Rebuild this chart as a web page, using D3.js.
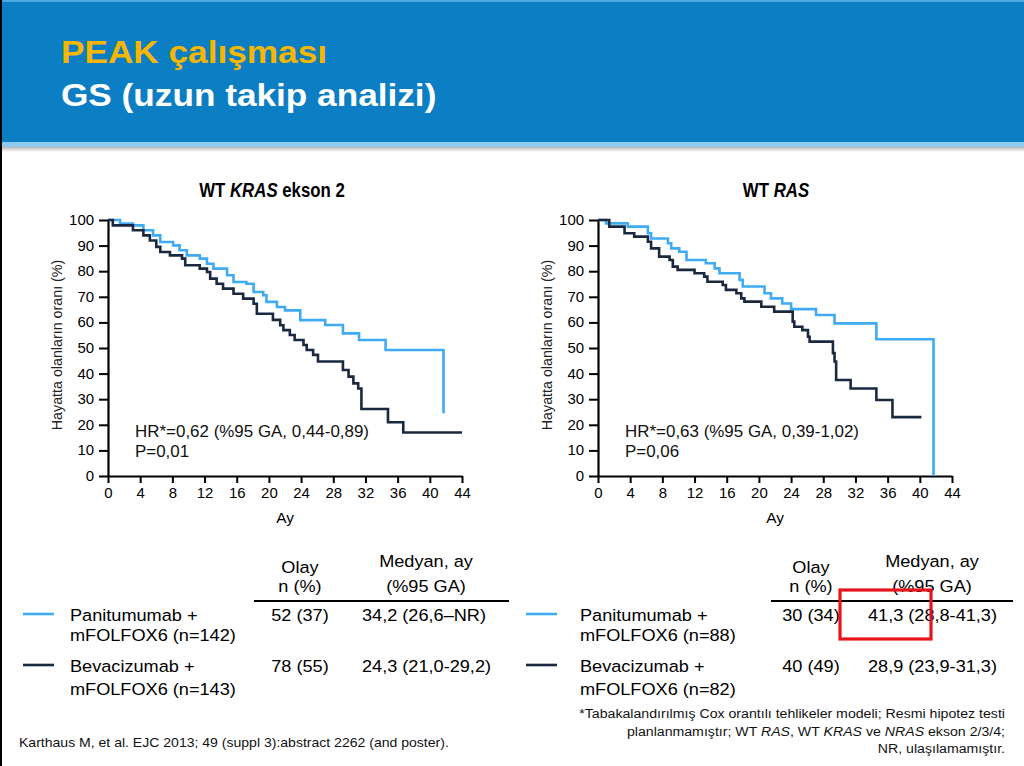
<!DOCTYPE html>
<html><head><meta charset="utf-8">
<script src="https://cdn.jsdelivr.net/npm/d3@7"></script>
<style>
body{margin:0;background:#fff}
svg{display:block}
text{font-family:"Liberation Sans",Arial,Helvetica,sans-serif}
</style>
</head><body>
<svg id="c" width="1024" height="766"></svg>
<script>
// ---------- data ----------
const titleLine1 = "PEAK çalışması";
const titleLine2 = "GS (uzun takip analizi)";
const panelTitles = [[["WT ", false], ["KRAS", true], [" ekson 2", false]], [["WT ", false], ["RAS", true]]];
const xTicks = [0, 4, 8, 12, 16, 20, 24, 28, 32, 36, 40, 44];
const yTicks = [0, 10, 20, 30, 40, 50, 60, 70, 80, 90, 100];
const yLabel = "Hayatta olanların oranı (%)";
const xLabel = "Ay";
const hrTexts = ["HR*=0,62 (%95 GA, 0,44-0,89)", "HR*=0,63 (%95 GA, 0,39-1,02)"];
const pTexts = ["P=0,01", "P=0,06"];

// WT KRAS exon 2 – Panitumumab (months, % alive)
const leftPaniT = [0, 1.5, 3.1, 4.4, 5.6, 6.5, 8.1, 8.9, 9.8, 11.4, 12.3, 13.1, 14.8, 15.6, 17.2, 18.1, 19.3, 19.7, 21.0, 22.0, 23.9, 27.0, 29.2, 31.2, 34.5, 41.7];
const leftPaniS = [100, 98.6, 97.9, 96, 94, 91.4, 90.1, 88.2, 86.2, 84.9, 82.9, 81, 78.4, 75.8, 75.1, 71.9, 70.6, 68, 66, 64.7, 60.9, 59, 55.7, 53.1, 49.2, 24.5];
// WT KRAS exon 2 – Bevacizumab
const leftBevaT = [0, 0.6, 3.1, 4.4, 5.2, 6.0, 6.5, 7.7, 9.2, 9.6, 11.4, 12.3, 12.7, 13.5, 14.3, 15.6, 16.8, 18.1, 18.5, 20.5, 21.4, 21.8, 22.6, 23.2, 24.3, 24.7, 25.5, 26.1, 29.2, 29.9, 30.5, 31.1, 31.5, 34.8, 36.7, 44];
const leftBevaS = [100, 97.9, 96, 94, 92, 89.5, 87.5, 86.2, 84.9, 82.3, 81, 79.7, 77.1, 75.1, 73.2, 71.2, 69.3, 67.3, 63.4, 61, 58.9, 57, 55.1, 53.1, 51.2, 49.2, 47.3, 44.7, 41.4, 38.8, 36.2, 34.2, 26.2, 21, 17, 17];
// WT RAS – Panitumumab
const rightPaniT = [0, 1.0, 3.7, 6.2, 6.6, 8.7, 9.1, 10.1, 11.0, 13.4, 14.5, 15.1, 17.6, 18.0, 20.7, 21.5, 22.9, 24.0, 27.1, 29.4, 34.6, 41.7];
const rightPaniS = [100, 98.7, 97.4, 94.8, 92.8, 90.9, 88.9, 87.6, 84.4, 83.1, 81.1, 79.2, 76.6, 74, 71.4, 69.4, 67.4, 65.2, 62.9, 59.6, 53.4, 0];
// WT RAS – Bevacizumab
const rightBevaT = [0, 1.4, 3.3, 4.5, 6.2, 6.6, 7.6, 8.9, 9.3, 9.9, 12.0, 13.2, 13.6, 15.5, 15.9, 17.2, 17.8, 18.2, 20.3, 21.9, 24.2, 24.4, 25.4, 26.1, 26.3, 29.2, 29.4, 29.6, 31.4, 34.6, 36.6, 40.2];
const rightBevaS = [100, 97.4, 94.8, 93.5, 91.5, 88.9, 85.7, 84.4, 81.8, 80.5, 79.2, 77.9, 75.9, 74.6, 72.7, 71.4, 69.4, 68.1, 66.1, 64.2, 60.3, 58.3, 57, 54.4, 52.5, 48, 44.7, 37.5, 34.2, 29.7, 23, 23];

const colHeadEvents = ["Olay", "n (%)"];
const colHeadMedian = ["Medyan, ay", "(%95 GA)"];
const armNames = ["Panitumumab +", "Bevacizumab +"];
const leftArmN = ["mFOLFOX6 (n=142)", "mFOLFOX6 (n=143)"];
const rightArmN = ["mFOLFOX6 (n=88)", "mFOLFOX6 (n=82)"];
const leftEvents = ["52 (37)", "78 (55)"];
const leftMedian = ["34,2 (26,6–NR)", "24,3 (21,0-29,2)"];
const rightEvents = ["30 (34)", "40 (49)"];
const rightMedian = ["41,3 (28,8-41,3)", "28,9 (23,9-31,3)"];
const footnote = [
  [["*Tabakalandırılmış Cox orantılı tehlikeler modeli; Resmi hipotez testi", false]],
  [["planlanmamıştır; WT ", false], ["RAS", true], [", WT ", false], ["KRAS", true], [" ve ", false], ["NRAS", true], [" ekson 2/3/4;", false]],
  [["NR, ulaşılamamıştır.", false]]
];
const reference = "Karthaus M, et al. EJC 2013; 49 (suppl 3):abstract 2262 (and poster).";

// ---------- styles ----------
const LIGHT = "#3eabf2", DARK = "#1a2940", HEADER = "#0b7ec4", YELLOW = "#f7b600";
const SX = 1.1;

const svg = d3.select("#c");

function txt(parent, x, y, content, o = {}) {
  const sx = o.sx ?? SX;
  const t = parent.append("text")
    .attr("transform", `translate(${x},${y})${o.rot ? " rotate(" + o.rot + ")" : ""} scale(${sx},1)`)
    .attr("text-anchor", o.anchor || "start")
    .attr("fill", o.fill || "#000")
    .style("font-size", (o.size || 16) + "px")
    .style("font-weight", o.bold ? "bold" : "normal");
  if (Array.isArray(content)) {
    content.forEach(([s, it]) => t.append("tspan").style("font-style", it ? "italic" : "normal").text(s));
  } else t.text(content);
  return t;
}

// ---------- header ----------
const defs = svg.append("defs");
const sh = defs.append("linearGradient").attr("id", "shadow").attr("x1", 0).attr("y1", 0).attr("x2", 0).attr("y2", 1);
sh.append("stop").attr("offset", 0).attr("stop-color", "#b8b8b8");
sh.append("stop").attr("offset", 1).attr("stop-color", "#ffffff");
svg.append("rect").attr("x", 0).attr("y", 0).attr("width", 1024).attr("height", 143).attr("fill", HEADER);
svg.append("rect").attr("x", 0).attr("y", 0).attr("width", 1024).attr("height", 2).attr("fill", "#4aa6de");
svg.append("rect").attr("x", 0).attr("y", 142).attr("width", 1024).attr("height", 5).attr("fill", "#8ecbf0");
svg.append("rect").attr("x", 0).attr("y", 147).attr("width", 1024).attr("height", 5).attr("fill", "url(#shadow)");
txt(svg, 61, 63, titleLine1, { size: 32, bold: true, fill: YELLOW });
txt(svg, 61, 106, titleLine2, { size: 32, bold: true, fill: "#fff" });
svg.append("rect").attr("x", 0).attr("y", 0).attr("width", 2).attr("height", 766).attr("fill", "#000");

// ---------- panels ----------
function panel(x0, titleParts, titleCx, paniT, paniS, bevaT, bevaS, hr, p) {
  const g = svg.append("g");
  const x = d3.scaleLinear().domain([0, 44]).range([x0, x0 + 354]);
  const y = d3.scaleLinear().domain([0, 100]).range([476, 220]);

  txt(g, titleCx, 197, titleParts, { size: 20.5, bold: true, anchor: "middle", sx: 0.82 });

  const ay = g.append("g").attr("transform", `translate(${x0},0)`)
    .call(d3.axisLeft(y).tickValues(yTicks).tickSize(9).tickPadding(5).tickSizeOuter(0));
  const ax = g.append("g").attr("transform", `translate(0,476)`)
    .call(d3.axisBottom(x).tickValues(xTicks).tickSize(7).tickPadding(5).tickSizeOuter(0));
  [ay, ax].forEach(a => {
    a.select(".domain").attr("stroke", "#000").attr("stroke-width", 2.2);
    a.selectAll(".tick line").attr("stroke", "#000").attr("stroke-width", 2);
    a.selectAll(".tick text").style("font-size", "14px").attr("fill", "#000")
      .style("font-family", '"Liberation Sans",Arial,sans-serif').attr("transform", "scale(1.07,1)");
  });
  ay.selectAll(".tick text").attr("x", -13);

  txt(g, x0 - 46, 345, yLabel, { size: 14, rot: -90, anchor: "middle", fill: "#222", sx: 1.02 });
  txt(g, x(22), 523, xLabel, { size: 14, anchor: "middle" });

  const line = d3.line().x(d => x(d[0])).y(d => y(d[1])).curve(d3.curveStepAfter);
  g.append("path").datum(d3.zip(paniT, paniS)).attr("d", line)
    .attr("fill", "none").attr("stroke", LIGHT).attr("stroke-width", 2.6);
  g.append("path").datum(d3.zip(bevaT, bevaS)).attr("d", line)
    .attr("fill", "none").attr("stroke", DARK).attr("stroke-width", 2.6);

  txt(g, x0 + 27, 437, hr, { size: 16, sx: 1.06, fill: "#111" });
  txt(g, x0 + 27, 457, p, { size: 16, sx: 1.06, fill: "#111" });
}
panel(108, panelTitles[0], 272, leftPaniT, leftPaniS, leftBevaT, leftBevaS, hrTexts[0], pTexts[0]);
panel(598, panelTitles[1], 776, rightPaniT, rightPaniS, rightBevaT, rightBevaS, hrTexts[1], pTexts[1]);

// ---------- tables ----------
function table(o) {
  const g = svg.append("g");
  const fs = 16.5;
  txt(g, o.evCx, 573, colHeadEvents[0], { size: fs, anchor: "middle" });
  txt(g, o.evCx, 592, colHeadEvents[1], { size: fs, anchor: "middle" });
  txt(g, o.medCx, 567, colHeadMedian[0], { size: fs, anchor: "middle" });
  txt(g, o.medCx, 592, colHeadMedian[1], { size: fs, anchor: "middle" });
  g.append("line").attr("x1", o.ruleX1).attr("x2", o.ruleX2).attr("y1", 601).attr("y2", 601)
    .attr("stroke", "#000").attr("stroke-width", 2.2);
  const rowY = [621, 672];
  const rowY2 = [641, 695];
  [LIGHT, DARK].forEach((c, i) => {
    g.append("line").attr("x1", o.legX).attr("x2", o.legX + 31).attr("y1", rowY[i] - 7).attr("y2", rowY[i] - 7)
      .attr("stroke", c).attr("stroke-width", 2.6);
    txt(g, o.nameX, rowY[i], armNames[i], { size: fs });
    txt(g, o.nameX, rowY2[i], o.armN[i], { size: fs });
    txt(g, o.evCx, rowY[i], o.events[i], { size: fs, anchor: "middle" });
    txt(g, o.medX, rowY[i], o.median[i], { size: fs, anchor: o.medAnchor });
  });
  return g;
}
table({ evCx: 300, medCx: 426, ruleX1: 254, ruleX2: 509, legX: 23, nameX: 70,
  armN: leftArmN, events: leftEvents, median: leftMedian, medX: 362, medAnchor: "start" });
const rt = table({ evCx: 811, medCx: 932, ruleX1: 771, ruleX2: 1013, legX: 526, nameX: 580,
  armN: rightArmN, events: rightEvents, median: rightMedian, medX: 997, medAnchor: "end" });
rt.append("rect").attr("x", 840).attr("y", 590).attr("width", 91).attr("height", 49)
  .attr("fill", "none").attr("stroke", "#e8141c").attr("stroke-width", 3.2);

// ---------- footnotes ----------
const fy = [718, 736, 753];
footnote.forEach((parts, i) => txt(svg, 1005, fy[i], parts, { size: 13.5, anchor: "end", sx: 1.048, fill: "#111" }));
txt(svg, 19, 747, reference, { size: 13.5, sx: 1.04, fill: "#111" });
</script>
</body></html>
